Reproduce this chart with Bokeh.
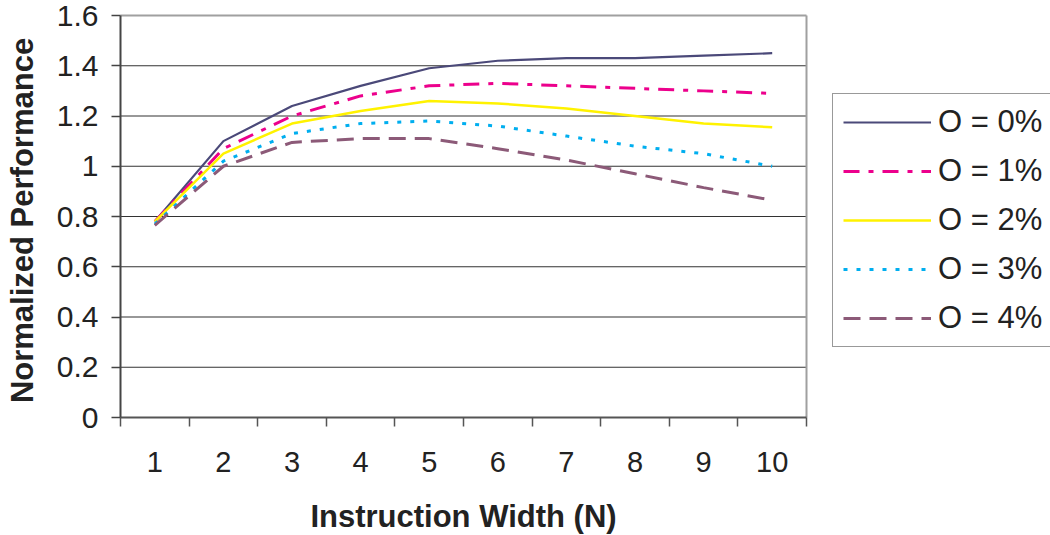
import math
from bokeh.plotting import figure
from bokeh.models import FixedTicker, Legend, LegendItem, Range1d, Label
from bokeh.embed import file_html
from bokeh.resources import INLINE

# ---- data ----
categories = [1, 2, 3, 4, 5, 6, 7, 8, 9, 10]
o0 = [0.78, 1.10, 1.24, 1.32, 1.39, 1.42, 1.43, 1.43, 1.44, 1.45]
o1 = [0.78, 1.07, 1.20, 1.28, 1.32, 1.33, 1.32, 1.31, 1.30, 1.29]
o2 = [0.78, 1.05, 1.17, 1.22, 1.26, 1.25, 1.23, 1.20, 1.17, 1.155]
o3 = [0.77, 1.02, 1.13, 1.17, 1.18, 1.16, 1.12, 1.08, 1.05, 1.00]
o4 = [0.765, 1.00, 1.095, 1.11, 1.11, 1.07, 1.025, 0.97, 0.915, 0.865]
series_labels = ["O = 0%", "O = 1%", "O = 2%", "O = 3%", "O = 4%"]
y_ticks = [0, 0.2, 0.4, 0.6, 0.8, 1.0, 1.2, 1.4, 1.6]
y_tick_labels = ["0", "0.2", "0.4", "0.6", "0.8", "1", "1.2", "1.4", "1.6"]
x_boundaries = [0.5, 1.5, 2.5, 3.5, 4.5, 5.5, 6.5, 7.5, 8.5, 9.5, 10.5]
x_title = "Instruction Width (N)"
y_title = "Normalized Performance"

FONT = "Liberation Sans"
TXT = "#222222"

# Layout: plot area spans x 120..806 px and y 15..417 px.  The frame covers the
# whole picture, so that the axes are drawn at fixed locations and the titles /
# legend (cut at the right edge) can be placed freely.
W, H = 1050, 535
LEFT, RIGHT, TOP, BOTTOM = 120, 806, 15, 417
X0, X1 = x_boundaries[0], x_boundaries[-1]
Y0, Y1 = y_ticks[0], y_ticks[-1]
px_x = (RIGHT - LEFT) / (X1 - X0)
px_y = (BOTTOM - TOP) / (Y1 - Y0)
x_start = X0 - LEFT / px_x
x_end = X0 + (W - LEFT) / px_x
y_start = Y0 - (H - BOTTOM) / px_y
y_end = Y1 + TOP / px_y


def xdata(px):
    return X0 + (px - LEFT) / px_x


def ydata(py):
    return Y0 + (BOTTOM - py) / px_y


p = figure(width=W, height=H, output_backend="svg", toolbar_location=None,
           x_range=Range1d(x_start, x_end), y_range=Range1d(y_start, y_end),
           min_border_left=0, min_border_right=0, min_border_top=0,
           min_border_bottom=0)
p.background_fill_color = "white"
p.border_fill_color = "white"
p.outline_line_color = None

# grid (drawn only across the plot area)
p.xgrid.visible = False
p.ygrid.visible = False
inner = y_ticks[1:-1]
p.segment(x0=[X0] * len(inner), x1=[X1] * len(inner), y0=inner, y1=inner,
          line_color="#333333", line_width=1.2)
# plot-area border (top and right, grey)
p.segment(x0=[X0, X1], y0=[Y1, Y0], x1=[X1, X1], y1=[Y1, Y1],
          line_color="#a0a0a0", line_width=2)

# x axis, drawn at y = 0
xa = p.xaxis[0]
xa.fixed_location = Y0
xa.bounds = (X0, X1)
xa.ticker = FixedTicker(ticks=categories, minor_ticks=x_boundaries)
xa.major_tick_out = 0
xa.major_tick_in = 0
xa.minor_tick_out = 9
xa.minor_tick_in = 0
xa.minor_tick_line_color = "#555555"
xa.minor_tick_line_width = 1.5
xa.axis_line_color = "#555555"
xa.axis_line_width = 2
xa.major_label_text_font = FONT
xa.major_label_text_font_size = "29px"
xa.major_label_text_color = TXT
xa.major_label_standoff = 25

# y axis, drawn at the left edge of the plot area
ya = p.yaxis[0]
ya.fixed_location = X0
ya.bounds = (Y0, Y1)
ya.ticker = FixedTicker(ticks=y_ticks)
ya.major_label_overrides = {v: s for v, s in zip(y_ticks, y_tick_labels)}
ya.major_tick_out = 9
ya.major_tick_in = 0
ya.minor_tick_out = 0
ya.minor_tick_in = 0
ya.major_tick_line_color = "#444444"
ya.major_tick_line_width = 1.5
ya.axis_line_color = "#444444"
ya.axis_line_width = 2
ya.major_label_text_font = FONT
ya.major_label_text_font_size = "30px"
ya.major_label_text_color = TXT
ya.major_label_standoff = 13

# axis titles
xt = Label(x=(X0 + X1) / 2, y=ydata(516), text=x_title,
           text_align="center", text_baseline="middle",
           text_font=FONT, text_font_size="31px", text_font_style="bold",
           text_color=TXT)
p.add_layout(xt)
yt = Label(x=xdata(22), y=ydata(220), text=y_title, angle=math.pi / 2,
           text_align="center", text_baseline="middle",
           text_font=FONT, text_font_size="31px", text_font_style="bold",
           text_color=TXT)
p.add_layout(yt)

# series
styles = [
    dict(line_color="#4b4979", line_width=2.2, line_dash="solid"),
    dict(line_color="#ec008c", line_width=3, line_dash="16 9 5 9"),
    dict(line_color="#fff200", line_width=2.5, line_dash="solid"),
    dict(line_color="#00aeef", line_width=3, line_dash="4 9"),
    dict(line_color="#8c5a78", line_width=3, line_dash="17 9"),
]
renderers = []
for vals, st in zip([o0, o1, o2, o3, o4], styles):
    r = p.line(categories, vals, **st)
    renderers.append(r)

items = [LegendItem(label=lab, renderers=[r]) for lab, r in zip(series_labels, renderers)]
legend = Legend(items=items, location=(832, H - 347))
legend.label_text_font = FONT
legend.label_text_font_size = "31px"
legend.label_text_color = TXT
legend.glyph_width = 88
legend.glyph_height = 20
legend.label_standoff = 7
legend.padding = 10
legend.spacing = 13
legend.margin = 0
legend.border_line_color = "#333333"
legend.border_line_width = 1.8
legend.background_fill_color = "white"
legend.background_fill_alpha = 1
p.add_layout(legend)

open("out.html", "w").write(file_html(p, INLINE))
